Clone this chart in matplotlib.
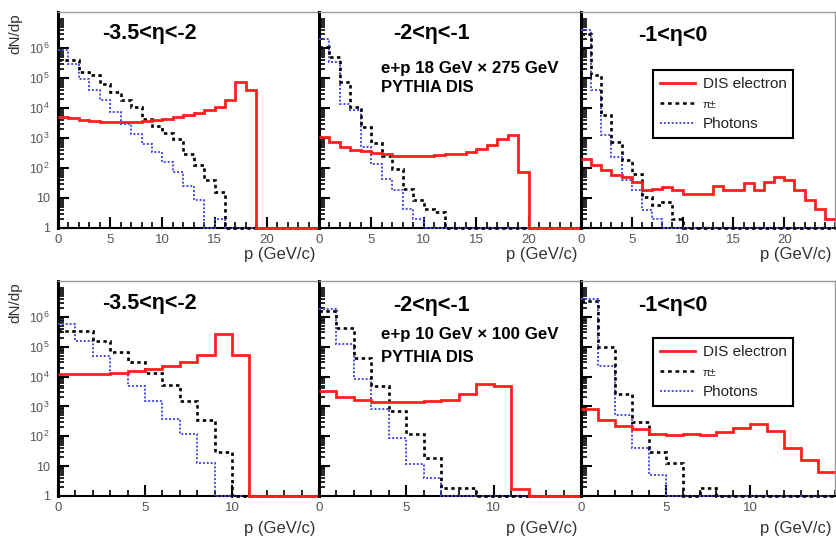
import numpy as np
import matplotlib
matplotlib.use("Agg")
import matplotlib.pyplot as plt
from matplotlib.lines import Line2D
from matplotlib.ticker import FixedLocator, MultipleLocator, LogLocator, FuncFormatter, NullFormatter

plt.rcParams['font.family'] = ['Liberation Sans', 'DejaVu Sans']
plt.rcParams['mathtext.fontset'] = 'custom'
plt.rcParams['mathtext.rm'] = 'Liberation Sans'

# ---------------- data (dN/dp per 1 GeV/c bin) ----------------
top_edges_max = 25      # top row: p from 0 to 25 GeV/c
bot_edges_max = 15      # bottom row: p from 0 to 15 GeV/c

eta_labels = ["-3.5<η<-2", "-2<η<-1", "-1<η<0"]
beam_labels = ["e+p 18 GeV × 275 GeV", "e+p 10 GeV × 100 GeV"]
generator_label = "PYTHIA DIS"
series_labels = ["DIS electron", "π±", "Photons"]
y_major_ticks = [1, 10, 100, 1e3, 1e4, 1e5, 1e6]

# top row, 18 x 275 GeV
tl_electron = [5000, 4800, 4100, 3700, 3400, 3300, 3300, 3400, 3700, 4100, 4400, 5000, 5800,
               6800, 8300, 10700, 19000, 74000, 39000, 0, 0, 0, 0, 0, 0]
tl_pion = [390000, 410000, 160000, 123000, 65000, 34000, 18000, 10700, 4400, 2450, 1500, 950,
           300, 123, 39, 16, 0, 0, 0, 0, 0, 0, 0, 0, 0]
tl_photon = [830000, 300000, 95000, 41000, 18000, 7400, 3000, 1400, 650, 340, 160, 74, 26,
             8.3, 0, 2, 0, 0, 0, 0, 0, 0, 0, 0, 0]

tm_electron = [1070, 740, 500, 410, 370, 320, 290, 250, 250, 250, 250, 265, 290, 300, 340,
               440, 575, 950, 1230, 74, 0, 0, 0, 0, 0]
tm_pion = [1070000, 500000, 74000, 10700, 2300, 680, 260, 95, 20, 8.3, 4.4, 3.4, 0, 0, 0, 0,
           0, 0, 0, 0, 0, 0, 0, 0, 0]
tm_photon = [2040000, 340000, 13800, 8300, 500, 138, 44, 18, 4.4, 2, 0, 0, 0, 0, 0, 0, 0, 0,
             0, 0, 0, 0, 0, 0, 0]

tr_electron = [204, 123, 83, 58, 50, 34, 18, 20, 23, 18, 14, 14, 14, 26, 18, 18, 32, 18, 34,
               52, 39, 18, 8.3, 4.4, 2]
tr_pion = [3000000, 123000, 5800, 740, 180, 62, 11, 5.8, 7.4, 2, 0, 0, 0, 0, 0, 0, 0, 0, 0,
           0, 0, 0, 0, 0, 0]
tr_photon = [3900000, 39000, 1230, 234, 39, 18, 3.9, 2, 0, 0, 0, 0, 0, 0, 0, 0, 0, 0, 0, 0,
             0, 0, 0, 0, 0]

# bottom row, 10 x 100 GeV
bl_electron = [12300, 12300, 12300, 13200, 14800, 18200, 23400, 31600, 52000, 263000, 52000,
               0, 0, 0, 0]
bl_pion = [340000, 340000, 158000, 68000, 30000, 13200, 5200, 1480, 340, 30, 0, 0, 0, 0, 0]
bl_photon = [575000, 158000, 50000, 12300, 4800, 1480, 390, 123, 13, 0, 0, 0, 0, 0, 0]

bm_electron = [3200, 2000, 1600, 1380, 1380, 1380, 1480, 1700, 2600, 5800, 4800, 1.7, 0, 0, 0]
bm_pion = [1600000, 410000, 41000, 5000, 690, 123, 19, 1.8, 1.8, 0, 0, 0, 0, 0, 0]
bm_photon = [1800000, 123000, 8300, 800, 91, 11.5, 3.9, 0, 0, 0, 0, 0, 0, 0, 0]

br_electron = [800, 340, 220, 170, 115, 107, 115, 107, 138, 190, 263, 148, 39, 16, 6.5]
br_pion = [3400000, 95000, 2600, 290, 30, 12.3, 0, 1.8, 0, 0, 0, 0, 0, 0, 0]
br_photon = [3900000, 23000, 525, 41, 5.2, 0, 0, 0, 0, 0, 0, 0, 0, 0, 0]

# ---------------- layout ----------------
W, H = 836, 538
fig = plt.figure(figsize=(W / 100, H / 100), dpi=100)

def rect(x0, y0, x1, y1):
    return [x0 / W, 1 - y1 / H, (x1 - x0) / W, (y1 - y0) / H]

RED = '#ff1f1f'
BLUE = '#4a4ae6'
YMIN, YMAX = 1.0, 10 ** 7.2

cols = [(58, 319), (319, 581), (581, 835)]
rows = [(12, 228), (281, 496)]

panels = [
    [(tl_electron, tl_pion, tl_photon), (tm_electron, tm_pion, tm_photon), (tr_electron, tr_pion, tr_photon)],
    [(bl_electron, bl_pion, bl_photon), (bm_electron, bm_pion, bm_photon), (br_electron, br_pion, br_photon)],
]
xmaxes = [top_edges_max, bot_edges_max]
xmajors = [[0, 5, 10, 15, 20], [0, 5, 10]]

def ylab(v, pos):
    if v <= 1.01:
        return '1'
    e = int(round(np.log10(v)))
    if e == 1:
        return '10'
    return r'$\mathregular{10^{%d}}$' % e

axes = []
for r, (y0, y1) in enumerate(rows):
    for c, (x0, x1) in enumerate(cols):
        ax = fig.add_axes(rect(x0, y0, x1, y1))
        axes.append(ax)
        el, pi, ph = panels[r][c]
        edges = np.arange(0, xmaxes[r] + 1, 1)
        for vals, col, lw, ls in [(ph, BLUE, 1.4, (0, (1, 1))),
                                  (pi, 'black', 1.9, (0, (1.3, 1.3))),
                                  (el, RED, 2.0, '-')]:
            v = np.asarray(vals, float)
            v = np.where(v > 0, v, YMIN)
            ax.stairs(v, edges, baseline=None, color=col, lw=lw, linestyle=ls, clip_on=False, zorder=3)
        ax.set_yscale('log')
        ax.set_ylim(YMIN, YMAX)
        ax.set_xlim(0, xmaxes[r])
        ax.xaxis.set_major_locator(FixedLocator(xmajors[r]))
        ax.xaxis.set_minor_locator(MultipleLocator(1))
        ax.yaxis.set_major_locator(FixedLocator(y_major_ticks))
        ax.yaxis.set_minor_locator(LogLocator(base=10, subs=np.arange(2, 10), numticks=12))
        ax.yaxis.set_minor_formatter(NullFormatter())
        if c == 0:
            ax.yaxis.set_major_formatter(FuncFormatter(ylab))
        else:
            ax.yaxis.set_major_formatter(NullFormatter())
        ax.tick_params(which='both', direction='in', top=False, right=False, colors='black',
                       labelcolor='#555555', labelsize=9.5)
        ax.tick_params(which='major', length=8, width=1.5)
        ax.tick_params(which='minor', length=4, width=1.2)
        ax.tick_params(axis='y', pad=6, labelsize=9)
        ax.tick_params(axis='x', pad=4)
        ax.spines['left'].set_linewidth(2.2)
        ax.spines['left'].set_color('black')
        ax.spines['bottom'].set_linewidth(1.5)
        ax.spines['bottom'].set_color('black')
        for s in ('top', 'right'):
            ax.spines[s].set_color('#9a9a9a')
            ax.spines[s].set_linewidth(1.0)
        ax.patch.set_alpha(0)
        # x axis title
        fig.text((x1 - 3) / W, 1 - (255 if r == 0 else 528) / H, 'p (GeV/c)', ha='right',
                 va='center', fontsize=12, color='#333333')

# y axis titles
for (y0, y1) in rows:
    fig.text(15 / W, 1 - (y0 + 1) / H, 'dN/dp', rotation=90, ha='center', va='top',
             fontsize=11, color='#333333')

def ftext(x, y, s, **kw):
    fig.text(x / W, 1 - y / H, s, ha='left', va='center', **kw)

# eta labels
eta_pos = [[(102, 33), (393, 34), (638, 35)], [(102, 303), (393, 306), (638, 306)]]
for r in range(2):
    for c in range(3):
        x, y = eta_pos[r][c]
        ftext(x, y, eta_labels[c], fontsize=15.5, fontweight='bold')

ftext(381, 68, beam_labels[0], fontsize=12.2, fontweight='bold')
ftext(381, 87, generator_label, fontsize=12, fontweight='bold')
ftext(381, 335, beam_labels[1], fontsize=12.2, fontweight='bold')
ftext(381, 357, generator_label, fontsize=12, fontweight='bold')

# legends
handles = [Line2D([], [], color=RED, lw=2.0),
           Line2D([], [], color='black', lw=1.8, ls=(0, (1.5, 1.5))),
           Line2D([], [], color=BLUE, lw=1.4, ls=(0, (1, 1)))]
for ax, ytop in [(axes[2], 70), (axes[5], 338)]:
    leg = ax.legend(handles, series_labels, loc='upper left',
                    bbox_to_anchor=(653 / W, 1 - ytop / H), bbox_transform=fig.transFigure,
                    fontsize=11, frameon=True, fancybox=False, edgecolor='black',
                    framealpha=1, handlelength=2.3, handletextpad=0.5, labelspacing=0.45,
                    borderpad=0.45, borderaxespad=0)
    leg.get_frame().set_linewidth(1.5)
    leg.get_texts()[1].set_fontsize(8)
    for t in leg.get_texts():
        t.set_color('#222222')

fig.savefig('out.png', dpi=100)
